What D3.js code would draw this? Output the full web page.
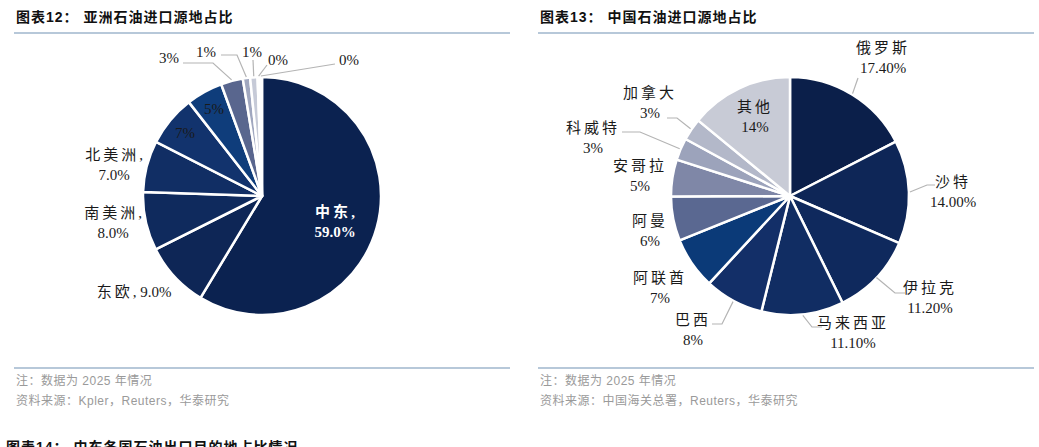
<!DOCTYPE html>
<html>
<head>
<meta charset="utf-8">
<script src="https://cdn.jsdelivr.net/npm/d3@7"></script>
<style>
  body { margin: 0; background: #fff; }
  svg { display: block; }
</style>
</head>
<body>
<div id="chart"></div>
<script>
// 图表12：亚洲石油进口源地占比
const asiaNames = ['中东', '东欧', '南美洲', '北美洲', '其他1', '其他2', '其他3', '其他4', '其他5', '其他6', '其他7'];
const asiaValues = [59, 9, 8, 7, 7, 5, 3, 1, 1, 0.3, 0.3];
const asiaLabels = [['中东,', '59.0%'], ['东欧, 9.0%'], ['南美洲,', '8.0%'], ['北美洲,', '7.0%'],
  ['7%'], ['5%'], ['3%'], ['1%'], ['1%'], ['0%'], ['0%']];
const asiaColors = ['#0b2250', '#0e2656', '#0f2a5d', '#112e64', '#12336d', '#0f3d7b',
  '#59668e', '#a0a7bf', '#c6cad7', '#d6d9e2', '#dfe1e8'];

// 图表13：中国石油进口源地占比
const chinaNames = ['俄罗斯', '沙特', '伊拉克', '马来西亚', '巴西', '阿联酋', '阿曼', '安哥拉', '科威特', '加拿大', '其他'];
const chinaValues = [17.4, 14.0, 11.2, 11.1, 8, 7, 6, 5, 3, 3, 14];
const chinaLabels = ['17.40%', '14.00%', '11.20%', '11.10%', '8%', '7%', '6%', '5%', '3%', '3%', '14%'];
const chinaColors = ['#0b1f4a', '#0e2657', '#0f295d', '#112d63', '#132f68', '#0b3a78',
  '#5a6891', '#7f87a7', '#9ca3bb', '#b3b8c9', '#c8cbd6'];

const W = 1039, H = 447;
const R = 119;
const svg = d3.select('#chart').append('svg').attr('width', W).attr('height', H);

const sans = '"Liberation Sans", Arial, "Noto Sans CJK SC", sans-serif';
const serif = '"Liberation Serif", "Times New Roman", "Noto Sans CJK SC", serif';

// label layout, relative to pie centre: text centre, optional leader elbow points
const asiaLayout = [
  { x: 73, y: 26, fill: '#fff', weight: 'bold' },
  { x: -128, y: 96 },
  { x: -149, y: 27 },
  { x: -148, y: -31 },
  { x: -77, y: -63 },
  { x: -48, y: -87 },
  { x: -93, y: -138, leader: [[-79, -133], [-49, -133]] },
  { x: -56, y: -144, leader: [[-41, -141], [-25, -141]] },
  { x: -10, y: -144, leader: [[-9, -136]] },
  { x: 16, y: -136, leader: [[5, -131]] },
  { x: 87, y: -136, leader: [[73, -132]] }
];
const chinaLayout = [
  { x: 93, y: -138, leader: [[68, -118]] },
  { x: 163, y: -4, leader: [[145, -11], [137, -11]] },
  { x: 140, y: 102, leader: [[115, 97], [105, 97], [87, 82]] },
  { x: 63, y: 137, leader: [[32, 131], [22, 131]] },
  { x: -97, y: 134, leader: [[-78, 128], [-68, 128]] },
  { x: -130, y: 92 },
  { x: -140, y: 35 },
  { x: -150, y: -20 },
  { x: -197, y: -58, leader: [[-168, -64], [-150, -64]] },
  { x: -140, y: -93, leader: [[-123, -78], [-113, -78]] },
  { x: -35, y: -79 }
];

function panel(x0, x1, title, note, source) {
  const g = svg.append('g');
  g.append('text').attr('x', x0 + 2).attr('y', 22)
    .attr('font-family', sans).attr('font-size', 14).attr('font-weight', 'bold')
    .attr('fill', '#111').attr('letter-spacing', 1)
    .text(title);
  g.append('line').attr('x1', x0).attr('x2', x1).attr('y1', 33).attr('y2', 33)
    .attr('stroke', '#9fb6cd').attr('stroke-width', 1.5);
  g.append('line').attr('x1', x0).attr('x2', x1).attr('y1', 368).attr('y2', 368)
    .attr('stroke', '#9fb6cd').attr('stroke-width', 1.5);
  g.append('text').attr('x', x0 + 2).attr('y', 385)
    .attr('font-family', sans).attr('font-size', 12).attr('fill', '#9a9a9a')
    .attr('letter-spacing', 0.5).text(note);
  g.append('text').attr('x', x0 + 2).attr('y', 405)
    .attr('font-family', sans).attr('font-size', 12).attr('fill', '#9a9a9a')
    .attr('letter-spacing', 0.5).text(source);
}

function drawPie(cx, cy, values, colors, labels, layout) {
  const pie = d3.pie().sort(null).value(d => d);
  const arcs = pie(values);
  const arc = d3.arc().innerRadius(0).outerRadius(R);
  const edge = d3.arc().innerRadius(R + 1).outerRadius(R + 1);
  const g = svg.append('g').attr('transform', `translate(${cx},${cy})`);

  g.selectAll('path.slice')
    .data(arcs)
    .enter()
    .append('path')
    .attr('class', 'slice')
    .attr('d', arc)
    .attr('fill', (d, i) => colors[i])
    .attr('stroke', '#fff')
    .attr('stroke-width', 2.5)
    .attr('stroke-linejoin', 'round');

  arcs.forEach((d, i) => {
    const lay = layout[i];
    if (lay.leader) {
      const pts = lay.leader.concat([edge.centroid(d)]);
      g.append('path')
        .attr('d', d3.line()(pts))
        .attr('fill', 'none')
        .attr('stroke', '#b4b4b4')
        .attr('stroke-width', 1.2);
    }
    const lines = labels[i];
    const lh = 20;
    lines.forEach((s, k) => {
      const t = g.append('text')
        .attr('text-anchor', 'middle')
        .attr('x', lay.x)
        .attr('y', lay.y + (k - (lines.length - 1) / 2) * lh)
        .attr('dy', '0.35em')
        .attr('font-family', serif)
        .attr('font-size', 15)
        .attr('font-weight', lay.weight || 'normal')
        .attr('fill', lay.fill || '#1a1a1a');
      // spread the Chinese characters only, keep numbers tight
      const runs = s.match(/[\u4e00-\u9fa5]+|[^\u4e00-\u9fa5]+/g);
      runs.forEach(r => {
        t.append('tspan')
          .attr('letter-spacing', /[\u4e00-\u9fa5]/.test(r) ? 3 : 0)
          .text(r);
      });
    });
  });
}

panel(14, 510, '图表12：  亚洲石油进口源地占比', '注：数据为 2025 年情况', '资料来源：Kpler，Reuters，华泰研究');
panel(538, 1034, '图表13：  中国石油进口源地占比', '注：数据为 2025 年情况', '资料来源：中国海关总署，Reuters，华泰研究');

drawPie(262, 196, asiaValues, asiaColors, asiaLabels, asiaLayout);
drawPie(790, 196, chinaValues, chinaColors,
  chinaNames.map((n, i) => [n, chinaLabels[i]]), chinaLayout);

// next figure's title, cut off at the bottom edge as in the page
svg.append('text').attr('x', 6).attr('y', 452)
  .attr('font-family', sans).attr('font-size', 14).attr('font-weight', 'bold')
  .attr('fill', '#111').attr('letter-spacing', 1)
  .text('图表14：  中东各国石油出口目的地占比情况');
</script>
</body>
</html>
